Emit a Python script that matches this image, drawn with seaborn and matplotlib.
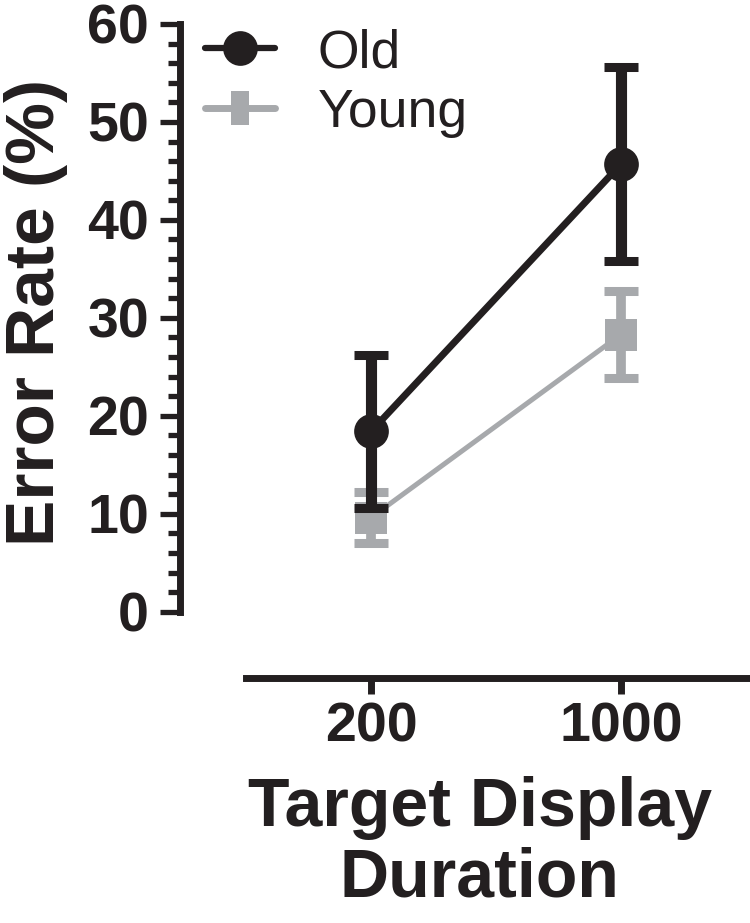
import matplotlib
matplotlib.use("Agg")
import matplotlib.pyplot as plt
from matplotlib.lines import Line2D
from matplotlib.ticker import MultipleLocator
import seaborn as sns
import pandas as pd

# ---- data ----
categories = ["200", "1000"]
old_mean = [18.4, 45.7]
old_err = [7.8, 9.9]
young_mean = [9.6, 28.3]
young_err = [2.6, 4.4]
y_ticks = [0, 10, 20, 30, 40, 50, 60]

BLACK = "#231f20"
GRAY = "#a7a9ac"

sns.set_style("ticks")
plt.rcParams["font.family"] = ["Liberation Sans", "DejaVu Sans"]

fig = plt.figure(figsize=(7.5, 9.23), dpi=100)
ax = fig.add_axes([0.24, 1 - 611.7 / 923, 0.76, (611.7 - 24) / 923])

pos = list(range(len(categories)))
df_old = pd.DataFrame({"pos": pos, "rate": old_mean, "group": "Old"})
df_young = pd.DataFrame({"pos": pos, "rate": young_mean, "group": "Young"})

# Young
ax.errorbar(pos, young_mean, yerr=young_err, fmt="none", ecolor=GRAY,
            elinewidth=7, capsize=12.2, capthick=6.5, zorder=2, clip_on=False)
sns.lineplot(data=df_young, x="pos", y="rate", color=GRAY, marker="s",
             markersize=23, markeredgewidth=0, linewidth=3.6, ax=ax,
             legend=False, zorder=3, clip_on=False)
# Old
ax.errorbar(pos, old_mean, yerr=old_err, fmt="none", ecolor=BLACK,
            elinewidth=8, capsize=12.2, capthick=6.5, zorder=4, clip_on=False)
sns.lineplot(data=df_old, x="pos", y="rate", color=BLACK, marker="o",
             markersize=25, markeredgewidth=0, linewidth=5, ax=ax,
             legend=False, zorder=5, clip_on=False)

# axes
ax.set_xlim(-0.764, 1.516)
ax.set_ylim(0, 60)
ax.set_xticks(pos)
ax.set_xticklabels(categories)
ax.set_yticks(y_ticks)
ax.yaxis.set_minor_locator(MultipleLocator(2))

sns.despine(ax=ax)
ax.spines["left"].set_linewidth(5)
ax.spines["left"].set_color(BLACK)
ax.spines["left"].set_bounds(0, 60)
ax.spines["bottom"].set_linewidth(5)
ax.spines["bottom"].set_color(BLACK)
ax.spines["bottom"].set_position(("outward", 47.4))
ax.spines["bottom"].set_bounds(-0.5, 1.516)

ax.tick_params(axis="y", which="major", length=14.4, width=3.8, color=BLACK,
               pad=8, labelsize=40, labelcolor=BLACK)
ax.tick_params(axis="y", which="minor", length=8.6, width=3.8, color=BLACK)
ax.tick_params(axis="x", which="major", length=11.5, width=5, color=BLACK,
               pad=6, labelsize=40, labelcolor=BLACK)
for lab in ax.get_xticklabels() + ax.get_yticklabels():
    lab.set_fontweight("bold")

ax.set_xlabel("Target Display\nDuration", fontsize=49, fontweight="bold",
              color=BLACK, linespacing=1.12)
ax.xaxis.set_label_coords(0.526, -0.28)
ax.set_ylabel("Error Rate (%)", fontsize=50, fontweight="bold", color=BLACK)
ax.yaxis.set_label_coords(-0.197, 0.51)

# legend
handles = [
    Line2D([], [], color=BLACK, lw=4.5, marker="o", markersize=25,
           markeredgewidth=0),
    Line2D([], [], color=GRAY, lw=5, markeredgewidth=0, markersize=24,
           marker=[(-0.26, -0.5), (0.26, -0.5), (0.26, 0.5), (-0.26, 0.5), (-0.26, -0.5)]),
]
fig.legend(handles, ["Old", "Young"], loc="upper left",
           bbox_to_anchor=(205 / 750, 1 - 28 / 923), frameon=False,
           fontsize=38.5, borderpad=0, borderaxespad=0, handlelength=1.3,
           handletextpad=0.8, labelspacing=0.18, labelcolor=BLACK)

fig.savefig("out.png", dpi=100)
